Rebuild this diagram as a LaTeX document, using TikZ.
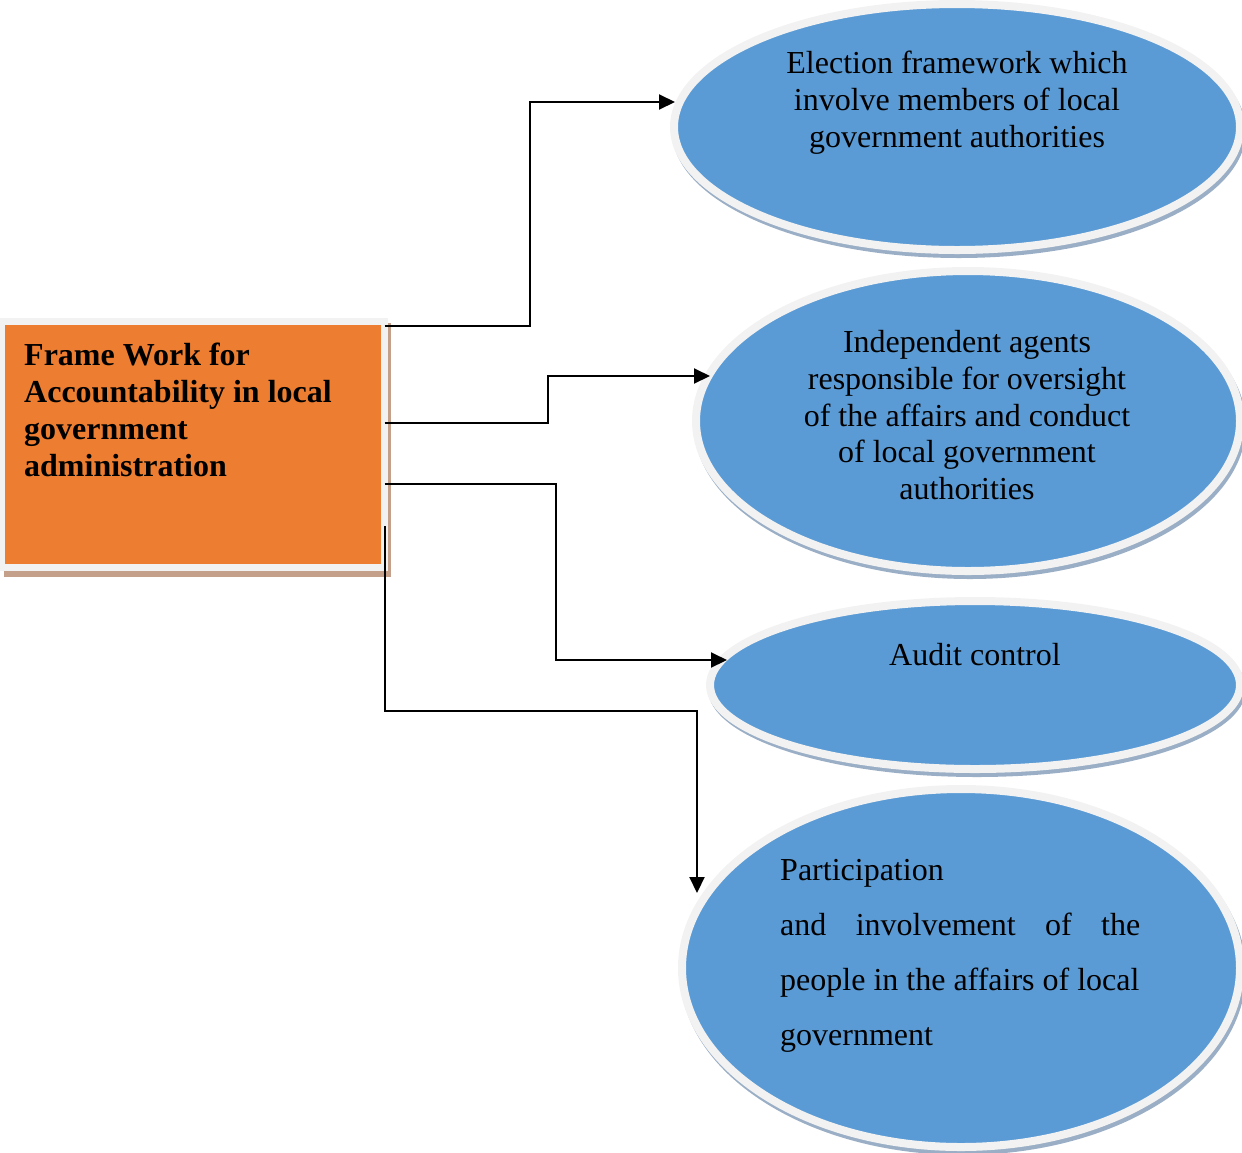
\documentclass[tikz,border=0pt]{standalone}
\usepackage{fontspec}
\setmainfont{Liberation Serif}
\usetikzlibrary{shapes.geometric,calc,arrows.meta,backgrounds}
\definecolor{bubblue}{HTML}{5B9BD5}
\definecolor{ringgray}{HTML}{F2F2F2}
\definecolor{shadeblue}{HTML}{9AAFC6}
\definecolor{boxorange}{HTML}{ED7D31}
\definecolor{boxshade}{HTML}{C4A08A}
\begin{document}
\begin{tikzpicture}[x=1pt,y=-1pt,
  txt/.style={font=\fontsize{32}{36.8}\selectfont, inner sep=0pt, align=center},
  bub/.style={ellipse, fill=bubblue, draw=ringgray, line width=8pt, inner sep=0pt},
  conn/.style={line width=2pt, -{Triangle[length=16pt,width=15pt]}},
]
\useasboundingbox (0,0) rectangle (1242,1152);

\node[draw=ringgray, fill=boxorange, line width=7pt, minimum width=383pt,
      minimum height=246.5pt, inner sep=0pt, outer sep=0pt] (box) at (193,444.25) {};
\node[txt, font=\bfseries\fontsize{32}{36.8}\selectfont, align=left, anchor=north west]
  (boxtext) at (24,343) {Frame Work for\\Accountability in local\\government\\administration};

\node[bub, minimum width=566pt, minimum height=246pt] (e1) at (957,127) {};
\node[bub, minimum width=544pt, minimum height=300pt] (e2) at (968,421) {};
\node[bub, minimum width=530pt, minimum height=168pt] (e3) at (975,685) {};
\node[bub, minimum width=558pt, minimum height=358pt] (e4) at (961,968) {};

\node[txt, anchor=north] (t1) at (957,51) {Election framework which\\involve members of local\\government authorities};
\node[txt, anchor=north] (t2) at (967,330) {Independent agents\\responsible for oversight\\of the affairs and conduct\\of local government\\authorities};
\node[txt, anchor=north] (t3) at (975,643) {Audit control};
\node[txt, anchor=north west, align=left, font=\fontsize{32}{55}\selectfont] (t4) at (780,859)
  {Participation\\\makebox[360pt][s]{and involvement of the}\\people in the affairs of local\\government};

\draw[conn] ($(box.north east)+(0,4.5)$) -- ++(145.5,0) |- ($(e1.center)+(-282,-25)$);
\draw[conn] ($(box.north east)+(0,101.5)$) -- ++(163,0) |- ($(e2.center)+(-258,-45)$);
\draw[conn] ($(box.north east)+(0,163)$) -- ++(171.5,0) |- ($(e3.center)+(-248,-25)$);
\draw[conn] ($(box.north east)+(0,205)$) -- ++(0,185) -| ($(e4.center)+(-264,-75)$);

\begin{scope}[on background layer]
  \fill[boxshade] ($(box.north west)+(2.5,2)$) rectangle ($(box.south east)+(6.5,9.5)$);
  \foreach \n/\rx/\ry in {e1/287/127,e2/276/154,e3/269/88,e4/283/183}
    \fill[shadeblue] ($(\n.center)+(2,4)$) ellipse [x radius=\rx, y radius=\ry];
\end{scope}
\end{tikzpicture}
\end{document}
